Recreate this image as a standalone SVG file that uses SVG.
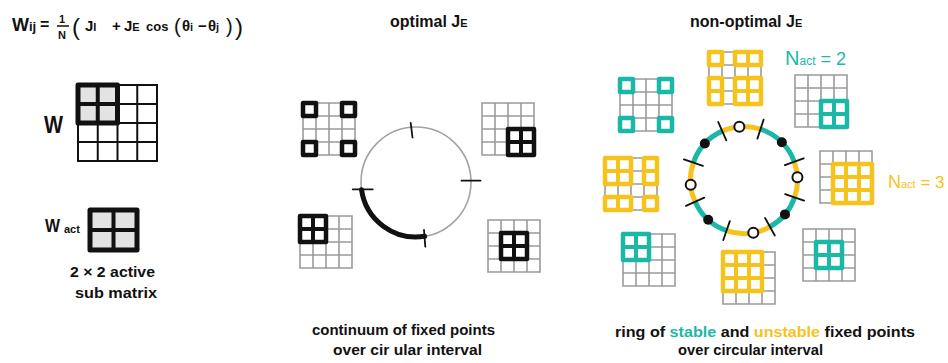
<svg xmlns="http://www.w3.org/2000/svg" xmlns:xlink="http://www.w3.org/1999/xlink" width="948" height="363" viewBox="0 0 948 363">
<style>
.t{font-family:"Liberation Sans","Noto Sans",sans-serif;fill:#111}
.b{font-weight:bold}
.bk{fill:#fff;stroke:#111;stroke-width:4.5;stroke-linejoin:round}
.bt{fill:#fff;stroke:#1bb8a7;stroke-width:4.5;stroke-linejoin:round}
.by{fill:#fff;stroke:#f6c31c;stroke-width:4.5;stroke-linejoin:round}
.il{fill:none;stroke-width:4}
.teal{fill:#1bb8a7}
.yel{fill:#f6c31c}
</style>
<defs>
<path id="g4" d="M0 0h52v52h-52z M13 0v52 M26 0v52 M39 0v52 M0 13h52 M0 26h52 M0 39h52" fill="none" stroke="#9b9b9b" stroke-width="1.6"/>
</defs>
<rect width="948" height="363" fill="#fff"/>

<!-- formula -->
<g id="formula">
<text class="t b" x="12" y="31" font-size="18">W<tspan font-size="13">ij</tspan></text>
<text class="t b" x="40" y="30" font-size="16">=</text>
<text class="t b" x="59" y="23" font-size="11">1</text>
<path d="M57 26h12" stroke="#111" stroke-width="1.5"/>
<text class="t b" x="58" y="39" font-size="11">N</text>
<text class="t" x="72" y="35" font-size="24">(</text>
<text class="t b" x="85" y="31" font-size="15">J<tspan font-size="11">I</tspan><tspan x="112">+</tspan><tspan x="124">J</tspan><tspan font-size="11">E</tspan><tspan x="146" font-size="13">cos</tspan></text>
<text class="t" x="174" y="33" font-size="20">(</text>
<text class="t b" x="182" y="31" font-size="15">θ<tspan font-size="11">i</tspan><tspan x="198">−</tspan><tspan x="208">θ</tspan><tspan font-size="11">j</tspan></text>
<text class="t" x="226" y="33" font-size="20">)</text>
<text class="t" x="235" y="35" font-size="24">)</text>
</g>

<!-- left panel -->
<g id="W">
<text class="t b" x="44" y="133" font-size="24" textLength="19" lengthAdjust="spacingAndGlyphs">W</text>
<path d="M78 85H157V161H78Z M97.75 85V161 M117.5 85V161 M137.25 85V161 M78 104H157 M78 123H157 M78 142H157" fill="none" stroke="#111" stroke-width="2"/>
<rect x="78" y="85" width="39.5" height="38" fill="#e3e3e3" stroke="#111" stroke-width="5" stroke-linejoin="round"/>
<path d="M97.75 85v38 M78 104h39.5" stroke="#111" stroke-width="4"/>
</g>
<g id="Wact">
<text class="t b" x="45" y="232" font-size="19" textLength="15" lengthAdjust="spacingAndGlyphs">W</text>
<text class="t b" x="64" y="233" font-size="11">act</text>
<rect x="90" y="210" width="47" height="40" fill="#e3e3e3" stroke="#111" stroke-width="5" stroke-linejoin="round"/>
<path d="M113.5 210v40 M90 230h47" stroke="#111" stroke-width="4"/>
<text class="t b" x="70" y="277" font-size="15" textLength="85" lengthAdjust="spacingAndGlyphs">2 × 2 active</text>
<text class="t b" x="75" y="298" font-size="15" textLength="82" lengthAdjust="spacingAndGlyphs">sub matrix</text>
</g>

<!-- middle panel -->
<g id="optimal-title"><text class="t b" x="390" y="27" font-size="16">optimal  J<tspan font-size="11">E</tspan></text></g>
<g id="ring-optimal">
<circle cx="416" cy="182" r="55" fill="none" stroke="#a3a3a3" stroke-width="1.6"/>
<path d="M361.54 189.65A55 55 0 0 0 424.6 236.32" fill="none" stroke="#111" stroke-width="5" stroke-linecap="round"/>
<path d="M410.7 123L412.5 137.5 M461.5 180.7H480.5 M352.7 189.3H372.7 M424 230L425.3 246.7" stroke="#111" stroke-width="1.8" stroke-linecap="round"/>
</g>
<g id="m-tl"><use href="#g4" x="303" y="103"/>
<rect class="bk" x="303" y="103" width="13" height="13"/><rect class="bk" x="342" y="103" width="13" height="13"/><rect class="bk" x="303" y="142" width="13" height="13"/><rect class="bk" x="342" y="142" width="13" height="13"/></g>
<g id="m-tr"><use href="#g4" x="482" y="103"/>
<rect class="bk" x="508" y="129" width="26" height="26"/><path class="il" stroke="#111" d="M521 129v26 M508 142h26"/></g>
<g id="m-bl"><use href="#g4" x="300" y="216"/>
<rect class="bk" x="300" y="216" width="26" height="26"/><path class="il" stroke="#111" d="M313 216v26 M300 229h26"/></g>
<g id="m-br"><use href="#g4" x="488" y="220"/>
<rect class="bk" x="501" y="233" width="26" height="26"/><path class="il" stroke="#111" d="M514 233v26 M501 246h26"/></g>
<g id="caption-mid">
<text class="t b" x="312" y="335" font-size="15" textLength="183" lengthAdjust="spacingAndGlyphs">continuum of fixed points</text>
<text class="t b" x="333" y="355" font-size="15" textLength="149" lengthAdjust="spacingAndGlyphs">over cir ular interval</text>
</g>

<!-- right panel -->
<g id="nonopt-title"><text class="t b" x="690" y="27" font-size="16">non-optimal  J<tspan font-size="11">E</tspan></text></g>
<g id="ring-nonopt">
<g fill="none" stroke-width="5">
<path stroke="#f6c31c" d="M722.24 131.13A53.5 53.5 0 0 1 760.53 129.12"/>
<path stroke="#1bb8a7" d="M760.53 129.12A53.5 53.5 0 0 1 794.27 161.7"/>
<path stroke="#f6c31c" d="M794.27 161.7A53.5 53.5 0 0 1 794.59 197.42"/>
<path stroke="#1bb8a7" d="M794.59 197.42A53.5 53.5 0 0 1 769.94 226.79"/>
<path stroke="#f6c31c" d="M769.94 226.79A53.5 53.5 0 0 1 726.58 230.59"/>
<path stroke="#1bb8a7" d="M726.58 230.59A53.5 53.5 0 0 1 695.13 201.76"/>
<path stroke="#f6c31c" d="M695.13 201.76A53.5 53.5 0 0 1 693.41 162.58"/>
<path stroke="#1bb8a7" d="M693.41 162.58A53.5 53.5 0 0 1 722.24 131.13"/>
</g>
<path stroke="#111" stroke-width="1.8" stroke-linecap="round" d="M726.31 140.26L718.17 121.99 M757.44 138.63L763.62 119.61 M784.88 165.12L803.67 158.28 M785.13 194.16L804.04 200.68 M765.09 218.05L774.78 235.54 M729.84 221.13L723.32 240.04 M704.26 197.69L685.99 205.83 M702.87 165.84L683.96 159.32"/>
<g fill="#111"><circle cx="781.83" cy="142.17" r="5"/><circle cx="784.98" cy="214.39" r="5"/><circle cx="708.2" cy="219.76" r="5"/><circle cx="704.87" cy="143.51" r="5"/></g>
<g fill="#fff" stroke="#111" stroke-width="2"><circle cx="739.34" cy="126.7" r="5"/><circle cx="797.43" cy="177.2" r="5"/><circle cx="753.29" cy="232.69" r="5"/><circle cx="690.7" cy="184.66" r="5"/></g>
</g>
<g id="r-1"><use href="#g4" x="620" y="79"/>
<rect class="bt" x="620" y="79" width="13" height="13"/><rect class="bt" x="659" y="79" width="13" height="13"/><rect class="bt" x="620" y="118" width="13" height="13"/><rect class="bt" x="659" y="118" width="13" height="13"/></g>
<g id="r-2"><use href="#g4" x="709" y="52"/>
<rect class="by" x="709" y="52" width="13" height="13"/>
<rect class="by" x="735" y="52" width="26" height="13"/>
<rect class="by" x="709" y="78" width="13" height="26"/>
<rect class="by" x="735" y="78" width="26" height="26"/>
<path class="il" stroke="#f6c31c" d="M748 52v13 M709 91h13 M748 78v26 M735 91h26"/></g>
<g id="r-3"><use href="#g4" x="795" y="75"/>
<rect class="bt" x="821" y="101" width="26" height="26"/><path class="il" stroke="#1bb8a7" d="M834 101v26 M821 114h26"/></g>
<g id="nact2"><text class="t teal" x="785" y="65" font-size="20">N<tspan font-size="12">act</tspan><tspan font-size="18"> = 2</tspan></text></g>
<g id="r-4"><use href="#g4" x="820" y="151"/>
<rect class="by" x="833" y="164" width="39" height="39"/><path class="il" stroke="#f6c31c" d="M846 164v39 M859 164v39 M833 177h39 M833 190h39"/></g>
<g id="nact3"><text class="t yel" x="888" y="188" font-size="18">N<tspan font-size="11">act</tspan><tspan font-size="17"> = 3</tspan></text></g>
<g id="r-5"><use href="#g4" x="605" y="158"/>
<rect class="by" x="605" y="158" width="26" height="26"/>
<rect class="by" x="644" y="158" width="13" height="26"/>
<rect class="by" x="605" y="197" width="26" height="13"/>
<rect class="by" x="644" y="197" width="13" height="13"/>
<path class="il" stroke="#f6c31c" d="M618 158v26 M605 171h26 M644 171h13 M618 197v13"/></g>
<g id="r-6"><use href="#g4" x="623" y="234"/>
<rect class="bt" x="623" y="234" width="26" height="26"/><path class="il" stroke="#1bb8a7" d="M636 234v26 M623 247h26"/></g>
<g id="r-7"><use href="#g4" x="723" y="252"/>
<rect class="by" x="723" y="252" width="39" height="39"/><path class="il" stroke="#f6c31c" d="M736 252v39 M749 252v39 M723 265h39 M723 278h39"/></g>
<g id="r-8"><use href="#g4" x="803" y="229"/>
<rect class="bt" x="816" y="242" width="26" height="26"/><path class="il" stroke="#1bb8a7" d="M829 242v26 M816 255h26"/></g>
<g id="caption-right">
<text class="t b" x="615" y="337" font-size="15" textLength="300" lengthAdjust="spacingAndGlyphs">ring of <tspan class="teal">stable</tspan> and <tspan class="yel">unstable</tspan> fixed points</text>
<text class="t b" x="678" y="355" font-size="15" textLength="145" lengthAdjust="spacingAndGlyphs">over circular interval</text>
</g>
</svg>
